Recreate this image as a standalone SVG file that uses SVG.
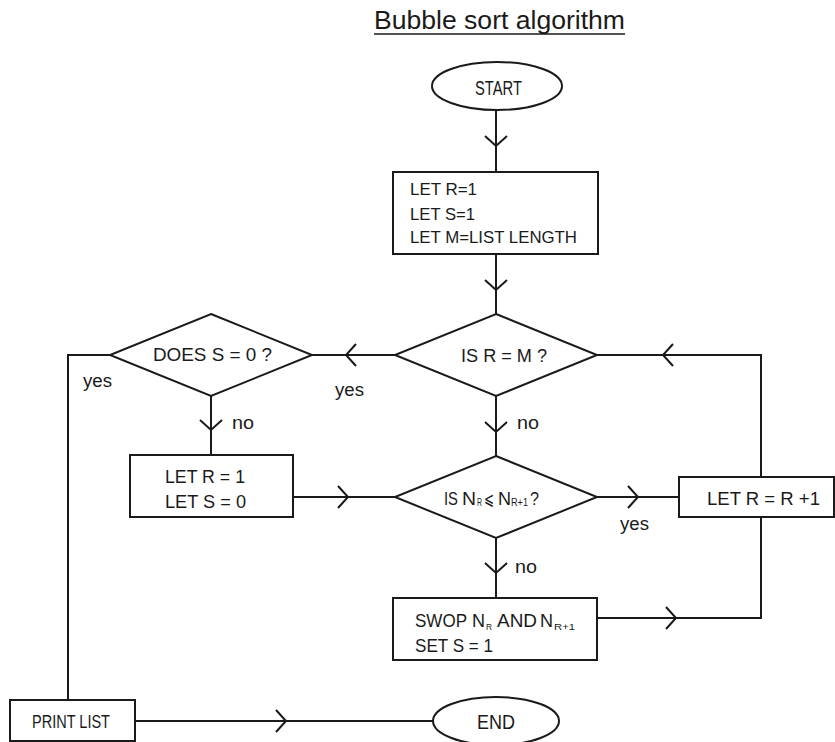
<svg xmlns="http://www.w3.org/2000/svg" xmlns:xlink="http://www.w3.org/1999/xlink" width="835" height="742" viewBox="0 0 835 742">
<style>
.s{fill:none;stroke:#1a1a1a;stroke-width:2}
.n{fill:#fff;stroke:#1a1a1a;stroke-width:2}
text{font-family:"Liberation Sans",Arial,sans-serif;fill:#1a1a1a;font-size:18px}
.b{font-size:17px}
.sub{font-size:10px}
.sub9{font-size:9px}
</style>
<defs>
<path id="chev" d="M-10,-11 L0,0 L-10,11" fill="none" stroke="#1a1a1a" stroke-width="2"/>
</defs>
<rect width="835" height="742" fill="#fff"/>
<g id="title">
<text x="374" y="29" textLength="251" lengthAdjust="spacingAndGlyphs" style="font-size:25px">Bubble sort algorithm</text>
<line x1="374" y1="34" x2="625" y2="34" stroke="#1a1a1a" stroke-width="1.6"/>
</g>
<g id="connectors">
<path class="s" d="M496,110 V172"/>
<use xlink:href="#chev" transform="translate(496,146) rotate(90)"/>
<path class="s" d="M496,254 V314"/>
<use xlink:href="#chev" transform="translate(496,290) rotate(90)"/>
<path class="s" d="M395,355 H312"/>
<use xlink:href="#chev" transform="translate(346,355) rotate(180)"/>
<path class="s" d="M110,355 H68 V700"/>
<path class="s" d="M211,396 V455"/>
<use xlink:href="#chev" transform="translate(211,430) rotate(90)"/>
<path class="s" d="M496,396 V456"/>
<use xlink:href="#chev" transform="translate(496,432) rotate(90)"/>
<path class="s" d="M293,497 H395"/>
<use xlink:href="#chev" transform="translate(348,497)"/>
<path class="s" d="M597,497 H679"/>
<use xlink:href="#chev" transform="translate(638,497)"/>
<path class="s" d="M761,477 V355 H597"/>
<use xlink:href="#chev" transform="translate(663,355) rotate(180)"/>
<path class="s" d="M496,538 V598"/>
<use xlink:href="#chev" transform="translate(496,573) rotate(90)"/>
<path class="s" d="M597,618 H761 V517"/>
<use xlink:href="#chev" transform="translate(676,618)"/>
<path class="s" d="M135,721 H433"/>
<use xlink:href="#chev" transform="translate(286,721)"/>
<text x="83" y="387" textLength="29" lengthAdjust="spacingAndGlyphs">yes</text>
<text x="335" y="396" textLength="29" lengthAdjust="spacingAndGlyphs">yes</text>
<text x="232" y="429" textLength="22" lengthAdjust="spacingAndGlyphs">no</text>
<text x="517" y="429" textLength="22" lengthAdjust="spacingAndGlyphs">no</text>
<text x="620" y="530" textLength="29" lengthAdjust="spacingAndGlyphs">yes</text>
<text x="515" y="573" textLength="22" lengthAdjust="spacingAndGlyphs">no</text>
</g>
<g id="start">
<ellipse class="n" cx="497" cy="86" rx="65" ry="24"/>
<text x="475" y="95" textLength="47" lengthAdjust="spacingAndGlyphs" style="font-size:20px">START</text>
</g>
<g id="init">
<rect class="n" x="393" y="172" width="205" height="82"/>
<text class="b" x="410" y="195" textLength="67" lengthAdjust="spacingAndGlyphs">LET R=1</text>
<text class="b" x="410" y="220" textLength="65" lengthAdjust="spacingAndGlyphs">LET S=1</text>
<text class="b" x="410" y="243" textLength="167" lengthAdjust="spacingAndGlyphs">LET M=LIST LENGTH</text>
</g>
<g id="isRM">
<polygon class="n" points="496,314 597,355 496,396 395,355"/>
<text x="461" y="362" textLength="86" lengthAdjust="spacingAndGlyphs">IS R = M ?</text>
</g>
<g id="doesS">
<polygon class="n" points="211,314 312,355 211,396 110,355"/>
<text x="153" y="361" textLength="119" lengthAdjust="spacingAndGlyphs">DOES S = 0 ?</text>
</g>
<g id="reset">
<rect class="n" x="130" y="455" width="163" height="62"/>
<text x="165" y="483" textLength="80" lengthAdjust="spacingAndGlyphs">LET R = 1</text>
<text x="165" y="508" textLength="81" lengthAdjust="spacingAndGlyphs">LET S = 0</text>
</g>
<g id="compare">
<polygon class="n" points="496,456 597,497 496,538 395,497"/>
<text x="444" y="505" textLength="14" lengthAdjust="spacingAndGlyphs">IS</text>
<text x="462" y="505" textLength="14" lengthAdjust="spacingAndGlyphs">N</text>
<text class="sub" x="477" y="506" textLength="5" lengthAdjust="spacingAndGlyphs">R</text>
<text x="484" y="505" textLength="10" lengthAdjust="spacingAndGlyphs">⩽</text>
<text x="498" y="505" textLength="13" lengthAdjust="spacingAndGlyphs">N</text>
<text class="sub" x="511" y="506" textLength="17" lengthAdjust="spacingAndGlyphs">R+1</text>
<text x="530" y="505" textLength="9" lengthAdjust="spacingAndGlyphs">?</text>
</g>
<g id="inc">
<rect class="n" x="679" y="477" width="155" height="40"/>
<text x="707" y="505" textLength="113" lengthAdjust="spacingAndGlyphs">LET R = R +1</text>
</g>
<g id="swap">
<rect class="n" x="393" y="598" width="204" height="62"/>
<text x="415" y="627" textLength="52" lengthAdjust="spacingAndGlyphs">SWOP</text>
<text x="472" y="627" textLength="13" lengthAdjust="spacingAndGlyphs">N</text>
<text class="sub9" x="486" y="630" textLength="6" lengthAdjust="spacingAndGlyphs">R</text>
<text x="497" y="627" textLength="40" lengthAdjust="spacingAndGlyphs">AND</text>
<text x="540" y="627" textLength="13" lengthAdjust="spacingAndGlyphs">N</text>
<text class="sub9" x="554" y="630" textLength="21" lengthAdjust="spacingAndGlyphs">R+1</text>
<text x="415" y="652" textLength="78" lengthAdjust="spacingAndGlyphs">SET S = 1</text>
</g>
<g id="print">
<rect class="n" x="10" y="700" width="125" height="41"/>
<text x="32" y="728" textLength="78" lengthAdjust="spacingAndGlyphs">PRINT LIST</text>
</g>
<g id="end">
<ellipse class="n" cx="496" cy="721" rx="63" ry="24"/>
<text x="477" y="729" textLength="38" lengthAdjust="spacingAndGlyphs" style="font-size:20px">END</text>
</g>
</svg>
